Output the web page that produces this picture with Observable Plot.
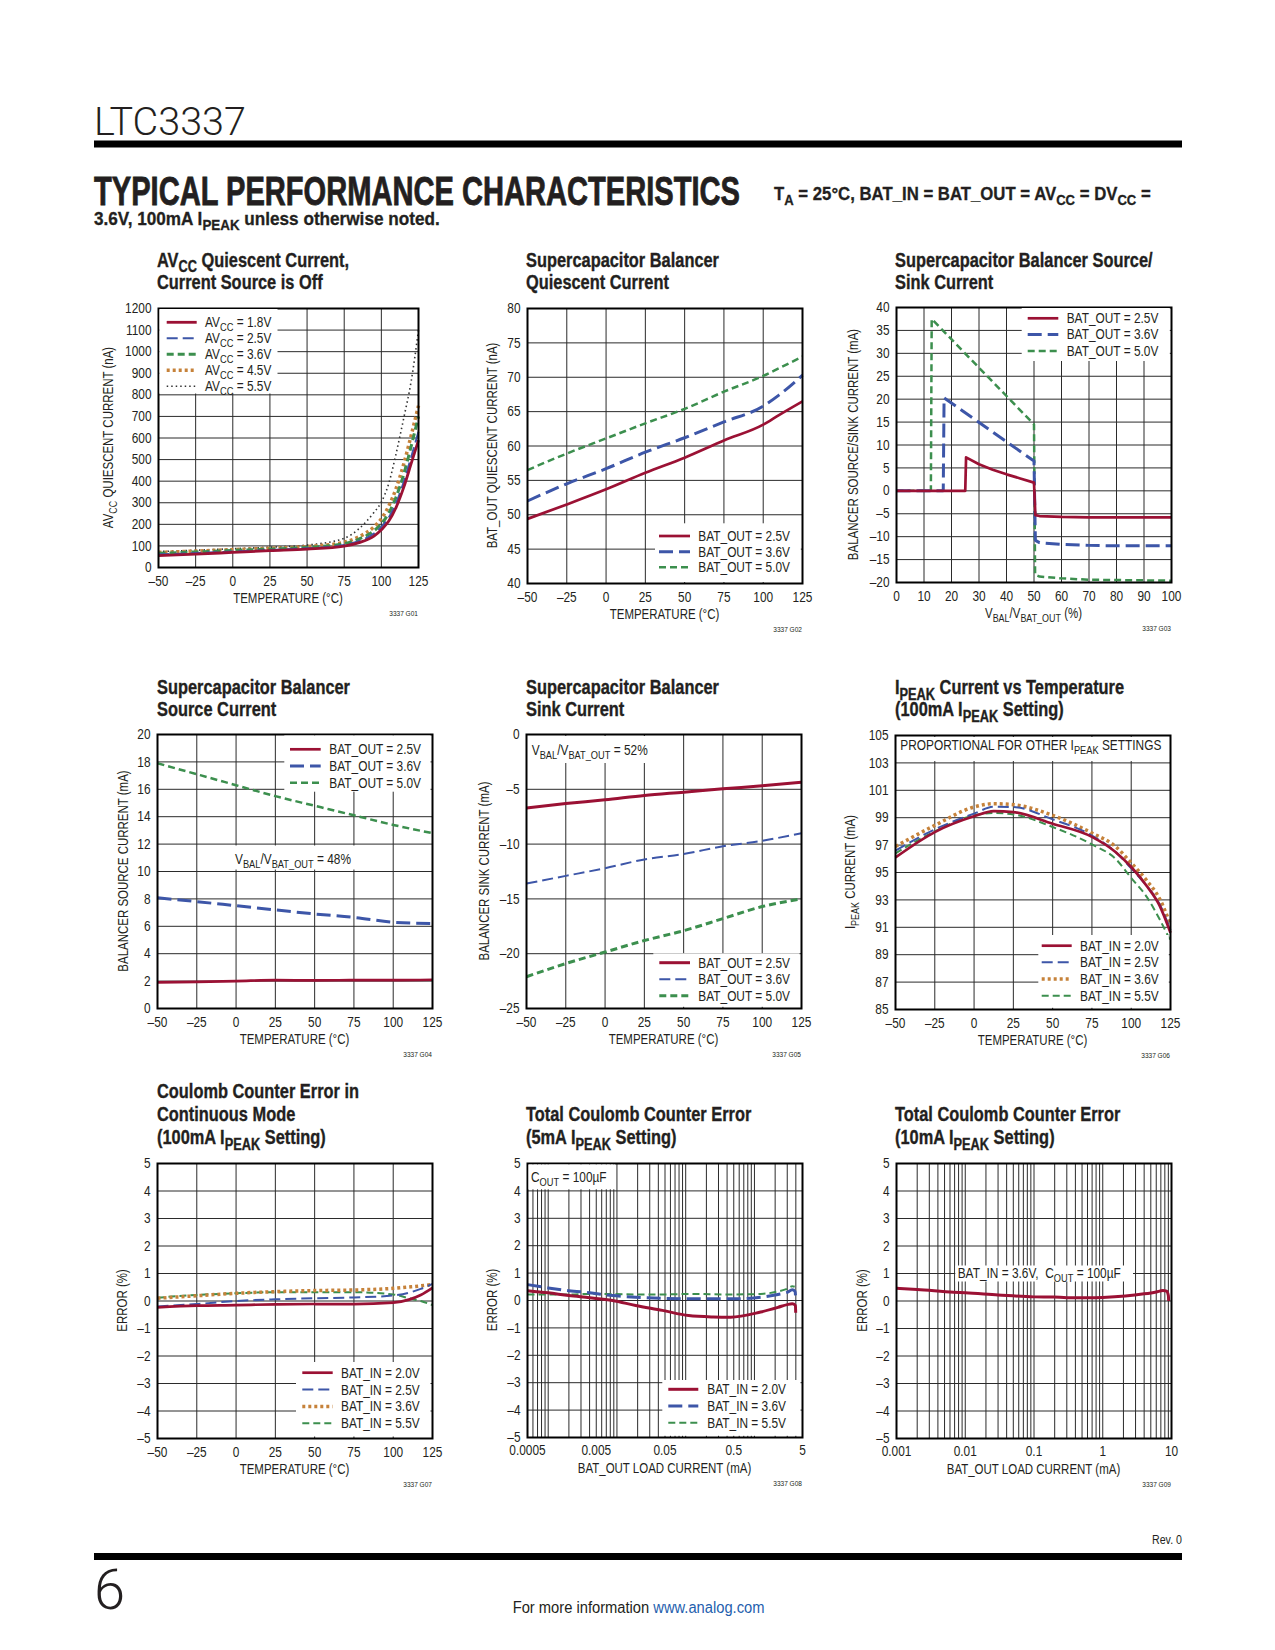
<!DOCTYPE html>
<html><head><meta charset="utf-8">
<script src="https://cdn.jsdelivr.net/npm/d3@7"></script>
<script src="https://cdn.jsdelivr.net/npm/@observablehq/plot@0.6"></script>
<style>
html,body{margin:0;padding:0;background:#fff;}
#page{position:relative;width:1275px;height:1650px;overflow:hidden;background:#fff;}
</style></head><body><div id="page"></div>
<script>
// ================= DATA =================
const tempTicks = [-50, -25, 0, 25, 50, 75, 100, 125];

// G01 AVCC quiescent current (nA) vs temperature
const g01_temp = [-50, -25, 0, 25, 50, 75, 85, 95, 100, 105, 110, 115, 120, 125];
const g01_av18 = [55, 62, 70, 78, 85, 99, 115, 145, 175, 215, 280, 370, 480, 590];
const g01_av25 = [60, 67, 74, 81, 89, 104, 123, 157, 188, 232, 300, 395, 510, 630];
const g01_av36 = [66, 72, 79, 85, 93, 110, 132, 170, 202, 252, 328, 430, 560, 700];
const g01_av45 = [70, 76, 83, 89, 97, 117, 143, 188, 226, 285, 368, 478, 610, 750];
const g01_av55 = [74, 80, 87, 94, 104, 135, 180, 255, 303, 390, 530, 690, 860, 1100];
const g01_yTicks = [0, 100, 200, 300, 400, 500, 600, 700, 800, 900, 1000, 1100, 1200];

// G02 balancer quiescent current (nA)
const g02_temp = [-50, -25, 0, 25, 50, 75, 100, 110, 125];
const g02_b25 = [49.4, 51.5, 53.7, 56.1, 58.3, 60.8, 63.1, 64.5, 66.5];
const g02_b36 = [52.0, 54.5, 56.7, 59.1, 61.2, 63.5, 65.8, 67.4, 70.3];
const g02_b50 = [56.5, 58.9, 61.1, 63.3, 65.4, 67.9, 70.2, 71.3, 73.0];
const g02_yTicks = [40, 45, 50, 55, 60, 65, 70, 75, 80];

// G03 source/sink current (mA) vs VBAL/VBAT_OUT (%)
const g03_x25 = [0, 25, 25.3, 30, 35, 40, 45, 50, 50.5, 52, 60, 70, 80, 90, 100];
const g03_y25 = [0, 0, 7.3, 5.8, 4.6, 3.6, 2.7, 1.8, -5.3, -5.5, -5.7, -5.8, -5.8, -5.8, -5.8];
const g03_x36 = [0, 17, 17.3, 50, 50.5, 52, 60, 70, 80, 100];
const g03_y36 = [0, 0, 20.3, 6.5, -10.8, -11.3, -11.7, -11.9, -12, -12];
const g03_x50 = [0, 12.5, 12.8, 50, 50.4, 52, 60, 70, 100];
const g03_y50 = [0, 0, 37.5, 14.5, -18.3, -18.7, -19.1, -19.4, -19.6];
const g03_xTicks = [0, 10, 20, 30, 40, 50, 60, 70, 80, 90, 100];
const g03_yTicks = [-20, -15, -10, -5, 0, 5, 10, 15, 20, 25, 30, 35, 40];

// G04 source current (mA)
const g04_temp = [-50, -25, 0, 25, 50, 75, 100, 125];
const g04_b25 = [1.9, 1.95, 2.0, 2.07, 2.05, 2.07, 2.07, 2.1];
const g04_b36 = [8.08, 7.8, 7.5, 7.2, 6.9, 6.65, 6.3, 6.2];
const g04_b50 = [17.9, 17.1, 16.3, 15.5, 14.8, 14.1, 13.4, 12.8];
const g04_yTicks = [0, 2, 4, 6, 8, 10, 12, 14, 16, 18, 20];

// G05 sink current (mA)
const g05_temp = [-50, -25, 0, 25, 50, 75, 100, 125];
const g05_b25 = [-6.7, -6.3, -5.96, -5.56, -5.26, -4.95, -4.68, -4.35];
const g05_b36 = [-13.6, -12.9, -12.2, -11.4, -10.9, -10.2, -9.7, -9.0];
const g05_b50 = [-22.1, -20.9, -19.85, -18.8, -17.9, -16.8, -15.7, -15.0];
const g05_yTicks = [-25, -20, -15, -10, -5, 0];

// G06 IPEAK current (mA)
const g06_temp = [-50, -25, 0, 12.5, 25, 50, 75, 90, 100, 110, 118, 125];
const g06_in20 = [96.1, 97.95, 99.1, 99.48, 99.41, 98.56, 97.6, 96.5, 95.4, 94.0, 92.6, 90.6];
const g06_in25 = [96.6, 98.15, 99.3, 99.8, 99.78, 98.88, 97.7, 96.5, 95.3, 94.0, 92.7, 90.8];
const g06_in36 = [96.9, 98.44, 99.78, 100.02, 99.95, 99.17, 97.88, 96.9, 95.7, 94.4, 93.1, 91.2];
const g06_in55 = [96.4, 98.0, 99.17, 99.34, 99.24, 98.32, 97.05, 96.0, 94.6, 93.2, 91.6, 90.0];
const g06_yTicks = [85, 87, 89, 91, 93, 95, 97, 99, 101, 103, 105];

// G07 coulomb counter error, continuous mode (%)
const g07_temp = [-50, -25, 0, 25, 50, 75, 100, 110, 117.5, 125];
const g07_in20 = [-0.23, -0.17, -0.15, -0.12, -0.11, -0.11, -0.06, 0.05, 0.22, 0.48];
const g07_in25 = [-0.2, -0.11, 0, 0.06, 0.1, 0.13, 0.2, 0.3, 0.44, 0.62];
const g07_in36 = [0.1, 0.19, 0.28, 0.34, 0.38, 0.4, 0.46, 0.51, 0.55, 0.6];
const g07_in55 = [0.12, 0.22, 0.28, 0.32, 0.32, 0.32, 0.24, 0.1, 0.0, -0.15];
const errTicks = [-5, -4, -3, -2, -1, 0, 1, 2, 3, 4, 5];

// G08 total error, 5mA IPEAK (%), load current (mA)
const g08_x20 = [0.0005, 0.001, 0.002, 0.004, 0.0086, 0.0187, 0.0457, 0.11, 0.25, 0.45, 1.23, 2.2, 3.0, 3.55, 3.95, 3.98];
const g08_y20 = [0.36, 0.28, 0.18, 0.1, 0, -0.18, -0.36, -0.55, -0.6, -0.61, -0.42, -0.25, -0.15, -0.12, -0.18, -0.45];
const g08_x36 = [0.0005, 0.001, 0.002, 0.004, 0.0086, 0.0187, 0.0457, 0.11, 0.45, 1.23, 2.2, 3.0, 3.55, 3.9, 3.97];
const g08_y36 = [0.58, 0.46, 0.36, 0.28, 0.18, 0.12, 0.08, 0.06, 0.06, 0.12, 0.22, 0.3, 0.39, 0.33, 0.12];
const g08_x55 = [0.0005, 0.001, 0.002, 0.004, 0.0086, 0.0187, 0.0457, 0.11, 0.45, 1.23, 2.2, 3.0, 3.55, 3.85];
const g08_y55 = [0.22, 0.22, 0.22, 0.24, 0.24, 0.22, 0.22, 0.24, 0.22, 0.24, 0.33, 0.43, 0.52, 0.5];
const g08_xTicks = [0.0005, 0.005, 0.05, 0.5, 5];

// G09 total error, 10mA IPEAK (%)
const g09_x36 = [0.001, 0.002, 0.0068, 0.01, 0.03, 0.1, 0.193, 0.3, 0.59, 1, 2.13, 4, 6, 7.5, 8.5, 9.0, 9.1];
const g09_y36 = [0.46, 0.42, 0.32, 0.30, 0.22, 0.15, 0.145, 0.12, 0.12, 0.13, 0.18, 0.26, 0.33, 0.38, 0.36, 0.2, 0.0];
const g09_xTicks = [0.001, 0.01, 0.1, 1, 10];

// ================= RENDER =================
const page = document.getElementById("page");
const FONT = "'Liberation Sans', Arial, Helvetica, sans-serif";
const NARROW = 0.82;           // emulate a condensed face
const INK = "#231f20";
const RED = "#9b1134", BLUE = "#3d56a8", GREEN = "#3c8f4e", ORANGE = "#c6823a", BLACK = "#333333";
const M = {l: 55, r: 16, t: 10, b: 34};

const zip = (xs, ys) => xs.map((x, i) => ({x, y: ys[i]}));
const fmt = d => d < 0 ? "\u2013" + (-d) : String(d);
function logGrid(lo, hi) {
  const out = [];
  for (let e = Math.floor(Math.log10(lo)); e <= Math.ceil(Math.log10(hi)); e++)
    for (let m = 1; m <= 9; m++) { const v = +(m * Math.pow(10, e)).toPrecision(6); if (v >= lo * 0.999 && v <= hi * 1.001) out.push(v); }
  return out;
}

function condense(svg) {
  d3.select(svg).selectAll("text").each(function () {
    const el = d3.select(this);
    const tr = el.attr("transform") || "";
    const x = +(el.attr("x") || 0);
    el.attr("x", x / NARROW).attr("transform", (tr + ` scale(${NARROW},1)`).trim());
  });
}

function drawPlot(c) {
  const w = c.R - c.L, h = c.B - c.T;
  const isLog = c.xType === "log";
  const marks = [
    Plot.ruleX(c.xGrid, {stroke: "#2b2b2b", strokeWidth: 1}),
    Plot.ruleY(c.yTicks, {stroke: "#2b2b2b", strokeWidth: 1}),
    ...c.series.slice().reverse().map(s => Plot.line(s.data, {
      x: "x", y: "y", stroke: s.color, strokeWidth: s.width,
      strokeDasharray: s.dash, strokeLinecap: "butt", strokeLinejoin: "round",
      curve: s.curve || "monotone-x"
    })),
    Plot.frame({stroke: "#000", strokeWidth: 2})
  ];
  if (isLog) marks.push(Plot.text(c.xTicks, {x: d => d, text: d => fmt(d), frameAnchor: "bottom", dy: 17, fontSize: 14.5, fill: INK}));
  const svg = Plot.plot({
    width: w + M.l + M.r, height: h + M.t + M.b,
    marginLeft: M.l, marginRight: M.r, marginTop: M.t, marginBottom: M.b,
    style: {fontFamily: FONT, fontSize: "14.5px", color: INK, background: "transparent", overflow: "visible"},
    x: isLog ? {type: "log", domain: c.xDomain, axis: null}
             : {domain: c.xDomain, ticks: c.xTicks, tickFormat: fmt, tickSize: 0, tickPadding: 8, label: null},
    y: {domain: c.yDomain, ticks: c.yTicks, tickFormat: fmt, tickSize: 0, tickPadding: 7, label: null},
    marks
  });
  svg.style.position = "absolute";
  svg.style.left = (c.L - M.l) + "px";
  svg.style.top = (c.T - M.t) + "px";
  page.appendChild(svg);
  condense(svg);
}

const s = {
  red: (d, label, w = 2.7) => ({data: d, label, color: RED, width: w}),
  blueThick: (d, label) => ({data: d, label, color: BLUE, width: 3, dash: "14,6"}),
  blueThin: (d, label) => ({data: d, label, color: BLUE, width: 2, dash: "11,5"}),
  green: (d, label, w = 2.5) => ({data: d, label, color: GREEN, width: w, dash: "7,4"}),
  orange: (d, label) => ({data: d, label, color: ORANGE, width: 3.5, dash: "3,3"}),
  black: (d, label) => ({data: d, label, color: BLACK, width: 1.6, dash: "1.5,3"})
};

const charts = [
  {L: 158, T: 308, R: 418, B: 567, xDomain: [-50, 125], xTicks: tempTicks, xGrid: tempTicks, yDomain: [0, 1200], yTicks: g01_yTicks,
   title: ["AV_{CC} Quiescent Current,", "Current Source is Off"], titleX: 157, titleY: [266.7, 288.7],
   ylabel: "AV_{CC} QUIESCENT CURRENT (nA)", ylabelX: 108, xlabel: "TEMPERATURE (°C)", code: "3337 G01",
   series: [
     s.red(zip(g01_temp, g01_av18), "AV_{CC} = 1.8V", 2.8),
     s.blueThin(zip(g01_temp, g01_av25), "AV_{CC} = 2.5V"),
     s.green(zip(g01_temp, g01_av36), "AV_{CC} = 3.6V", 3),
     s.orange(zip(g01_temp, g01_av45), "AV_{CC} = 4.5V"),
     s.black(zip(g01_temp, g01_av55), "AV_{CC} = 5.5V")],
   legend: {box: [159.5, 309, 277.5, 393.5], lx: [166.7, 196.7], tx: 205, ys: [322.3, 338.3, 354.3, 370.3, 386.3]}},
  {L: 527, T: 308, R: 802, B: 583, xDomain: [-50, 125], xTicks: tempTicks, xGrid: tempTicks, yDomain: [40, 80], yTicks: g02_yTicks,
   title: ["Supercapacitor Balancer", "Quiescent Current"], titleX: 526, titleY: [266.7, 288.7],
   ylabel: "BAT_OUT QUIESCENT CURRENT (nA)", ylabelX: 492.3, xlabel: "TEMPERATURE (°C)", code: "3337 G02",
   series: [
     s.red(zip(g02_temp, g02_b25), "BAT_OUT = 2.5V"),
     s.blueThick(zip(g02_temp, g02_b36), "BAT_OUT = 3.6V"),
     s.green(zip(g02_temp, g02_b50), "BAT_OUT = 5.0V")],
   legend: {box: [655, 523.3, 800.8, 582], lx: [659, 690], tx: 698.3, ys: [536, 551.7, 567.3]}},
  {L: 896, T: 307, R: 1171, B: 582, xDomain: [0, 100], xTicks: g03_xTicks, xGrid: g03_xTicks, yDomain: [-20, 40], yTicks: g03_yTicks,
   title: ["Supercapacitor Balancer Source/", "Sink Current"], titleX: 895, titleY: [266.7, 288.7],
   ylabel: "BALANCER SOURCE/SINK CURRENT (mA)", ylabelX: 853.3, xlabel: "V_{BAL}/V_{BAT_OUT} (%)", code: "3337 G03",
   series: [
     Object.assign(s.red(zip(g03_x25, g03_y25), "BAT_OUT = 2.5V"), {curve: "linear"}),
     Object.assign(s.blueThick(zip(g03_x36, g03_y36), "BAT_OUT = 3.6V"), {curve: "linear"}),
     Object.assign(s.green(zip(g03_x50, g03_y50), "BAT_OUT = 5.0V"), {curve: "linear"})],
   legend: {box: [1021.7, 308, 1169.8, 361], lx: [1027.7, 1058.3], tx: 1066.7, ys: [318.3, 334.5, 351]}},
  {L: 157, T: 734, R: 432, B: 1008, xDomain: [-50, 125], xTicks: tempTicks, xGrid: tempTicks, yDomain: [0, 20], yTicks: g04_yTicks,
   title: ["Supercapacitor Balancer", "Source Current"], titleX: 157, titleY: [694, 716.5],
   ylabel: "BALANCER SOURCE CURRENT (mA)", ylabelX: 122.7, xlabel: "TEMPERATURE (°C)", code: "3337 G04",
   series: [
     s.red(zip(g04_temp, g04_b25), "BAT_OUT = 2.5V"),
     s.blueThick(zip(g04_temp, g04_b36), "BAT_OUT = 3.6V"),
     s.green(zip(g04_temp, g04_b50), "BAT_OUT = 5.0V")],
   legend: {box: [284.3, 735.5, 430.5, 791.7], lx: [290, 320.7], tx: 329.3, ys: [749.3, 766, 782.7]},
   notes: [{box: [232, 845.5, 366, 869.5], text: "V_{BAL}/V_{BAT_OUT} = 48%", tx: 235, ty: 864}]},
  {L: 526, T: 734, R: 801, B: 1008, xDomain: [-50, 125], xTicks: tempTicks, xGrid: tempTicks, yDomain: [-25, 0], yTicks: g05_yTicks,
   title: ["Supercapacitor Balancer", "Sink Current"], titleX: 526, titleY: [694, 716.5],
   ylabel: "BALANCER SINK CURRENT (mA)", ylabelX: 484.3, xlabel: "TEMPERATURE (°C)", code: "3337 G05",
   series: [
     s.red(zip(g05_temp, g05_b25), "BAT_OUT = 2.5V", 3),
     s.blueThin(zip(g05_temp, g05_b36), "BAT_OUT = 3.6V"),
     s.green(zip(g05_temp, g05_b50), "BAT_OUT = 5.0V", 3)],
   legend: {box: [653.3, 953.3, 799.5, 1006.8], lx: [659.3, 690], tx: 698.3, ys: [962.7, 979.3, 995.7]},
   notes: [{box: [528, 736, 662, 763], text: "V_{BAL}/V_{BAT_OUT} = 52%", tx: 531.7, ty: 755}]},
  {L: 895, T: 735, R: 1170, B: 1009, xDomain: [-50, 125], xTicks: tempTicks, xGrid: tempTicks, yDomain: [85, 105], yTicks: g06_yTicks,
   title: ["I_{PEAK} Current vs Temperature", "(100mA I_{PEAK} Setting)"], titleX: 895, titleY: [694, 716.5],
   ylabel: "I_{PEAK} CURRENT (mA)", ylabelX: 850, xlabel: "TEMPERATURE (°C)", code: "3337 G06",
   series: [
     s.red(zip(g06_temp, g06_in20), "BAT_IN = 2.0V"),
     s.blueThin(zip(g06_temp, g06_in25), "BAT_IN = 2.5V"),
     s.orange(zip(g06_temp, g06_in36), "BAT_IN = 3.6V"),
     s.green(zip(g06_temp, g06_in55), "BAT_IN = 5.5V", 2)],
   legend: {box: [1038.3, 935, 1168.8, 1007.8], lx: [1041.7, 1071.7], tx: 1080, ys: [945.7, 962.3, 979, 995.7]},
   notes: [{box: [897, 737, 1168.8, 761], text: "PROPORTIONAL FOR OTHER I_{PEAK} SETTINGS", tx: 900.3, ty: 750}]},
  {L: 157, T: 1163, R: 432, B: 1438, xDomain: [-50, 125], xTicks: tempTicks, xGrid: tempTicks, yDomain: [-5, 5], yTicks: errTicks,
   title: ["Coulomb Counter Error in", "Continuous Mode", "(100mA I_{PEAK} Setting)"], titleX: 157, titleY: [1098.3, 1121, 1144],
   ylabel: "ERROR (%)", ylabelX: 121.7, xlabel: "TEMPERATURE (°C)", code: "3337 G07",
   series: [
     s.red(zip(g07_temp, g07_in20), "BAT_IN = 2.0V"),
     s.blueThin(zip(g07_temp, g07_in25), "BAT_IN = 2.5V"),
     s.orange(zip(g07_temp, g07_in36), "BAT_IN = 3.6V"),
     s.green(zip(g07_temp, g07_in55), "BAT_IN = 5.5V", 2)],
   legend: {box: [296, 1362, 430.5, 1436.5], lx: [302.3, 332.7], tx: 341, ys: [1372.7, 1389.6, 1406.5, 1423.3]}},
  {L: 527, T: 1163, R: 802, B: 1437, xType: "log", xDomain: [0.0005, 5], xTicks: g08_xTicks, xGrid: logGrid(0.0005, 5), yDomain: [-5, 5], yTicks: errTicks,
   title: ["Total Coulomb Counter Error", "(5mA I_{PEAK} Setting)"], titleX: 526, titleY: [1121, 1144.5],
   ylabel: "ERROR (%)", ylabelX: 491.7, xlabel: "BAT_OUT LOAD CURRENT (mA)", code: "3337 G08",
   series: [
     s.red(zip(g08_x20, g08_y20), "BAT_IN = 2.0V", 3),
     s.blueThick(zip(g08_x36, g08_y36), "BAT_IN = 3.6V"),
     s.green(zip(g08_x55, g08_y55), "BAT_IN = 5.5V", 2)],
   legend: {box: [662.3, 1380, 800.5, 1435.8], lx: [668.3, 698.3], tx: 707.3, ys: [1389.3, 1406, 1422.7]},
   notes: [{box: [528.5, 1164.5, 615, 1189.3], text: "C_{OUT} = 100µF", tx: 531, ty: 1181.7}]},
  {L: 896, T: 1163, R: 1171, B: 1438, xType: "log", xDomain: [0.001, 10], xTicks: g09_xTicks, xGrid: logGrid(0.001, 10), yDomain: [-5, 5], yTicks: errTicks,
   title: ["Total Coulomb Counter Error", "(10mA I_{PEAK} Setting)"], titleX: 895, titleY: [1121, 1144.5],
   ylabel: "ERROR (%)", ylabelX: 861.7, xlabel: "BAT_OUT LOAD CURRENT (mA)", code: "3337 G09",
   series: [s.red(zip(g09_x36, g09_y36), "BAT_IN = 3.6V", 3)],
   notes: [{box: [955.3, 1265.5, 1133, 1281.5], text: "BAT_IN = 3.6V,  C_{OUT} = 100µF", tx: 957.7, ty: 1278.3}]}
];

charts.forEach(drawPlot);

// ---------- overlay (texts, legends, annotations) ----------
const ov = d3.select(page).append("svg")
  .attr("width", 1275).attr("height", 1650)
  .style("position", "absolute").style("left", 0).style("top", 0)
  .attr("font-family", FONT).attr("fill", INK);

function addText(x, y, str, o = {}) {
  const fs = o.size || 14;
  const t = ov.append("text").attr("x", x).attr("y", y).attr("font-size", fs)
    .attr("text-anchor", o.anchor || "start").attr("fill", o.fill || INK)
    .style("white-space", "pre");
  if (o.weight) t.attr("font-weight", o.weight);
  if (o.family) t.attr("font-family", o.family);
  if (o.heavy) t.attr("stroke", o.fill || INK).attr("stroke-width", o.heavy);
  const parts = str.split(/(_\{[^}]*\})/).filter(p => p);
  const d = fs * 0.28;
  let shifted = false;
  for (const p of parts) {
    if (p.startsWith("_{")) {
      t.append("tspan").attr("font-size", fs * 0.78).attr("dy", d).text(p.slice(2, -1));
      shifted = true;
    } else {
      const ts = t.append("tspan").text(p);
      if (shifted) { ts.attr("dy", -d); shifted = false; }
    }
  }
  let k = NARROW;
  if (o.len) k = o.len / t.node().getComputedTextLength();
  else if (o.wide) k = 1;
  let tr = o.rotate ? `rotate(${o.rotate},${x},${y}) ` : "";
  if (k !== 1) tr += `translate(${x},${y}) scale(${k},1) translate(${-x},${-y})`;
  if (tr) t.attr("transform", tr.trim());
  return t;
}
function whiteBox(b) {
  ov.append("rect").attr("x", b[0]).attr("y", b[1]).attr("width", b[2] - b[0]).attr("height", b[3] - b[1]).attr("fill", "#fff");
}

charts.forEach(c => {
  c.title.forEach((line, i) => addText(c.titleX, c.titleY[i], line, {size: 20, weight: 700, heavy: 0.35}));
  addText(c.ylabelX + 5, (c.T + c.B) / 2, c.ylabel, {size: 14, anchor: "middle", rotate: -90});
  addText((c.L + c.R) / 2, c.B + 36, c.xlabel, {size: 14, anchor: "middle"});
  addText(c.R, c.B + 49, c.code, {size: 8, anchor: "end"});
  (c.notes || []).forEach(n => { whiteBox(n.box); addText(n.tx, n.ty, n.text, {size: 14.5}); });
  if (c.legend) {
    const lg = c.legend;
    whiteBox(lg.box);
    c.series.forEach((se, i) => {
      const y = lg.ys[i];
      ov.append("line").attr("x1", lg.lx[0]).attr("x2", lg.lx[1]).attr("y1", y).attr("y2", y)
        .attr("stroke", se.color).attr("stroke-width", se.width).attr("stroke-dasharray", se.dash || null);
      addText(lg.tx, y + 5, se.label, {size: 14.5});
    });
  }
});

// header
addText(94, 135, "LTC3337", {size: 38, family: "Roboto, 'Liberation Sans', sans-serif", weight: 300, len: 152});
ov.append("rect").attr("x", 94).attr("y", 140.5).attr("width", 1088).attr("height", 7).attr("fill", "#000");
addText(94, 205, "TYPICAL PERFORMANCE CHARACTERISTICS", {size: 40, weight: 700, len: 646, heavy: 0.8});
addText(774, 200, "T_{A} = 25°C, BAT_IN = BAT_OUT = AV_{CC} = DV_{CC} =", {size: 18.5, weight: 700, len: 377, heavy: 0.3});
addText(94, 225, "3.6V, 100mA I_{PEAK} unless otherwise noted.", {size: 18.5, weight: 700, len: 346, heavy: 0.3});

// footer
ov.append("rect").attr("x", 94).attr("y", 1553).attr("width", 1088).attr("height", 7).attr("fill", "#000");
addText(1182, 1544, "Rev. 0", {size: 13, anchor: "end"});
addText(94, 1609, "6", {size: 56, family: "Roboto, 'Liberation Sans', sans-serif", weight: 300, wide: true});
const ft = ov.append("text").attr("x", 638.6).attr("y", 1613).attr("font-size", 16).attr("text-anchor", "middle")
  .style("white-space", "pre");
ft.append("tspan").text("For more information ");
ft.append("tspan").attr("fill", "#1f5fae").text("www.analog.com");
const ftk = 252 / ft.node().getComputedTextLength();
ft.attr("transform", `translate(638.6,1613) scale(${ftk},1) translate(-638.6,-1613)`);
</script></body></html>
